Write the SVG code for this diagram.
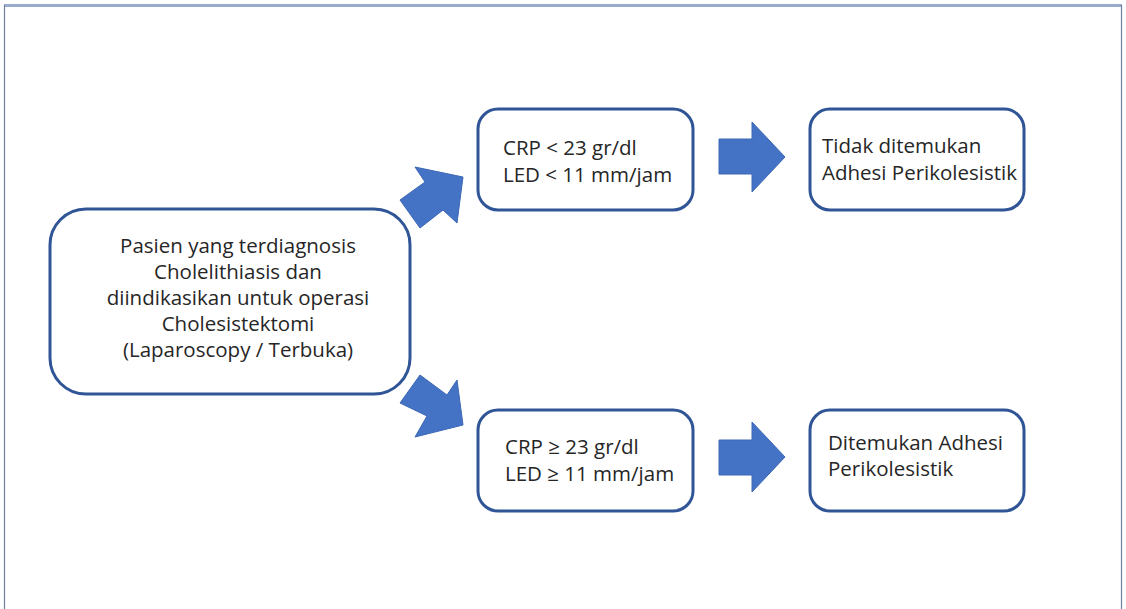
<svg xmlns="http://www.w3.org/2000/svg" width="1126" height="609" viewBox="0 0 1126 609">
<style>
.box{fill:#fff;stroke:#2f5597;stroke-width:3}
.t{font-family:"Open Sans","Noto Sans",sans-serif;font-size:20.5px;fill:#262626}
.c{text-anchor:middle}
.arr{fill:#4472c4;stroke:#3d68b5;stroke-width:1}
</style>
<rect width="1126" height="609" fill="#fff"/>
<g id="frame" fill="none">
<line x1="4" y1="5.5" x2="1122" y2="5.5" stroke="#9aaccc" stroke-width="3"/>
<line x1="4.5" y1="5" x2="4.5" y2="609" stroke="#6f7f9e" stroke-width="1.2"/>
<line x1="1121.5" y1="5" x2="1121.5" y2="609" stroke="#6f7f9e" stroke-width="1.2"/>
</g>
<g id="connectors">
<polygon class="arr" points="463,177 415,167 425,182 400,200 420,228 443,210 457,223"/>
<polygon class="arr" points="463,425 457,380 447,395 420,375 400,403 427,416 415,437"/>
<polygon class="arr" points="719,139 752,139 752,122 785,157 752,192 752,174 719,174"/>
<polygon class="arr" points="719,440 752,440 752,422 785,457 752,492 752,475 719,475"/>
</g>
<g id="n_pasien">
<rect class="box" x="50" y="209" width="360" height="185" rx="36"/>
<text class="t c" x="238" y="253">Pasien yang terdiagnosis</text>
<text class="t c" x="238" y="279">Cholelithiasis dan</text>
<text class="t c" x="238" y="305">diindikasikan untuk operasi</text>
<text class="t c" x="238" y="331">Cholesistektomi</text>
<text class="t c" x="238" y="357">(Laparoscopy / Terbuka)</text>
</g>
<g id="n_low">
<rect class="box" x="478" y="109" width="215" height="101" rx="20"/>
<text class="t" x="503" y="155">CRP &lt; 23 gr/dl</text>
<text class="t" x="503" y="182">LED &lt; 11 mm/jam</text>
</g>
<g id="n_tidak">
<rect class="box" x="810" y="109" width="214" height="101" rx="20"/>
<text class="t" x="822" y="153">Tidak ditemukan</text>
<text class="t" x="822" y="180">Adhesi Perikolesistik</text>
</g>
<g id="n_high">
<rect class="box" x="478" y="410" width="215" height="101" rx="20"/>
<text class="t" x="505" y="454">CRP ≥ 23 gr/dl</text>
<text class="t" x="505" y="481">LED ≥ 11 mm/jam</text>
</g>
<g id="n_ditemukan">
<rect class="box" x="810" y="410" width="214" height="101" rx="20"/>
<text class="t" x="828" y="450">Ditemukan Adhesi</text>
<text class="t" x="828" y="476">Perikolesistik</text>
</g>
</svg>
